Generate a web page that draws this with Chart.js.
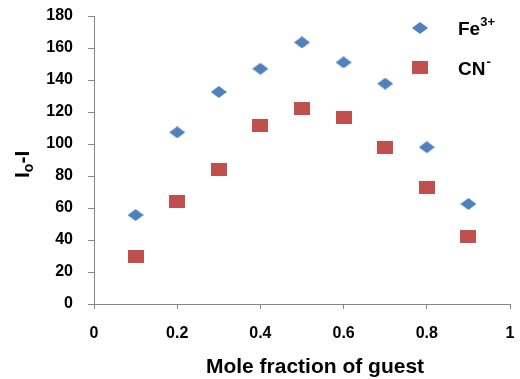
<!DOCTYPE html>
<html>
<head>
<meta charset="utf-8">
<script src="https://cdn.jsdelivr.net/npm/chart.js@4/dist/chart.umd.min.js"></script>
<style>
  html, body { margin: 0; padding: 0; background: #fff; }
  #wrap { width: 520px; height: 379px; }
</style>
</head>
<body>
<div id="wrap"><canvas id="chart" width="520" height="379"></canvas></div>
<script>
// mole fraction of guest
const molFrac = [0.1, 0.2, 0.3, 0.4, 0.5, 0.6, 0.7, 0.8, 0.9];
// Io-I values
const feVals = [55.6, 107.3, 132.5, 147, 163.5, 151, 137.7, 98, 62.5];
const cnVals = [30, 64.2, 84.2, 111.7, 122, 116.5, 98, 73, 42.3];
const yTicksMax = 180;
const xTitle = 'Mole fraction of guest';
const blue = '#4F81BD';
const red = '#C0504D';
const axisGray = '#868686';
const fontFam = '"Liberation Sans", Arial, sans-serif';

function makeDiamond(w, h, color) {
  const c = document.createElement('canvas');
  c.width = w; c.height = h;
  const g = c.getContext('2d');
  g.fillStyle = color;
  g.beginPath();
  g.moveTo(w / 2, 0);
  g.lineTo(w, h / 2);
  g.lineTo(w / 2, h);
  g.lineTo(0, h / 2);
  g.closePath();
  g.fill();
  return c;
}
function makeSquare(w, h, color) {
  const c = document.createElement('canvas');
  c.width = w; c.height = h;
  const g = c.getContext('2d');
  g.fillStyle = color;
  g.fillRect(0, 0, w, h);
  return c;
}
const diamond = makeDiamond(16, 12, blue);
const square = makeSquare(16, 13, red);

function toPts(vals) {
  return vals.map((v, i) => ({x: molFrac[i], y: v}));
}

// legend, axis titles (sub/superscripts need manual drawing)
const extras = {
  id: 'extras',
  afterDraw(chart) {
    const ctx = chart.ctx;
    ctx.save();
    // legend
    ctx.drawImage(diamond, 420 - 8, 28 - 6);
    ctx.drawImage(square, 420 - 8, 67 - 6.5);
    ctx.fillStyle = '#000';
    ctx.textBaseline = 'alphabetic';
    ctx.textAlign = 'left';
    ctx.font = 'bold 19px ' + fontFam;
    ctx.fillText('Fe', 458, 35);
    let w = ctx.measureText('Fe').width;
    ctx.font = 'bold 13px ' + fontFam;
    ctx.fillText('3+', 458 + w, 26);
    ctx.font = 'bold 19px ' + fontFam;
    ctx.fillText('CN', 458, 75);
    w = ctx.measureText('CN').width;
    ctx.font = 'bold 13px ' + fontFam;
    ctx.fillText('-', 458 + w + 1, 66);

    // x axis title
    ctx.font = 'bold 21px ' + fontFam;
    ctx.textAlign = 'center';
    ctx.textBaseline = 'middle';
    ctx.fillText(xTitle, 315, 367);

    // y axis title  Io-I
    ctx.textAlign = 'left';
    ctx.textBaseline = 'alphabetic';
    ctx.translate(29, 178);
    ctx.rotate(-Math.PI / 2);
    ctx.font = 'bold 21px ' + fontFam;
    ctx.fillText('I', 0, 0);
    let x = ctx.measureText('I').width;
    ctx.font = 'bold 14px ' + fontFam;
    ctx.fillText('o', x, 4);
    x += ctx.measureText('o').width;
    ctx.font = 'bold 21px ' + fontFam;
    ctx.fillText('-I', x, 0);
    ctx.restore();
  }
};

new Chart(document.getElementById('chart').getContext('2d'), {
  type: 'scatter',
  data: {
    datasets: [{
      label: 'Fe3+',
      data: toPts(feVals),
      pointStyle: diamond,
      backgroundColor: blue,
      borderColor: blue
    }, {
      label: 'CN-',
      data: toPts(cnVals),
      pointStyle: square,
      backgroundColor: red,
      borderColor: red
    }]
  },
  options: {
    responsive: false,
    animation: false,
    layout: { padding: { top: 16, right: 10, left: 0, bottom: 0 } },
    plugins: {
      legend: { display: false },
      tooltip: { enabled: false }
    },
    scales: {
      x: {
        type: 'linear',
        min: 0,
        max: 1,
        afterFit: (s) => { s.height = 75; s.paddingLeft = 0; s.paddingRight = 0; },
        ticks: {
          stepSize: 0.2,
          color: '#000',
          padding: 15,
          callback: (v) => String(Math.round(v * 10) / 10),
          font: { family: fontFam, size: 16, weight: 'bold' }
        },
        grid: { drawOnChartArea: false, drawTicks: true, tickLength: 5, color: axisGray },
        border: { color: axisGray }
      },
      y: {
        min: 0,
        max: yTicksMax,
        afterFit: (s) => { s.width = 94; s.paddingTop = 0; s.paddingBottom = 0; },
        ticks: {
          stepSize: 20,
          color: '#000',
          padding: 15,
          font: { family: fontFam, size: 16, weight: 'bold' }
        },
        grid: { drawOnChartArea: false, drawTicks: true, tickLength: 6, color: axisGray },
        border: { color: axisGray }
      }
    }
  },
  plugins: [extras]
});
</script>
</body>
</html>
